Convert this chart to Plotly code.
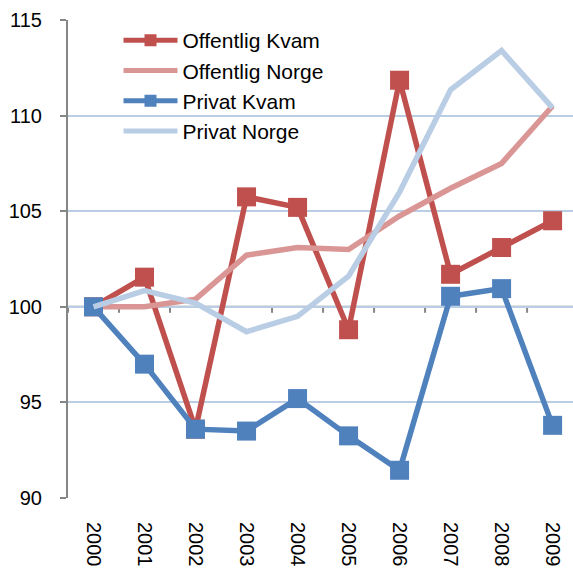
import plotly.graph_objects as go

years = ["2000", "2001", "2002", "2003", "2004", "2005", "2006", "2007", "2008", "2009"]
offentlig_kvam = [100, 101.55, 93.6, 105.75, 105.2, 98.8, 111.85, 101.7, 103.1, 104.5]
offentlig_norge = [100, 100.0, 100.4, 102.7, 103.1, 103.0, 104.75, 106.2, 107.5, 110.5]
privat_kvam = [100, 97.0, 93.6, 93.5, 95.2, 93.25, 91.45, 100.55, 100.95, 93.8]
privat_norge = [100, 100.85, 100.2, 98.7, 99.5, 101.6, 106.0, 111.35, 113.4, 110.4]
y_ticks = [90, 95, 100, 105, 110, 115]

RED = "#C0504D"
LRED = "#DA9694"
BLUE = "#4F81BD"
LBLUE = "#B9CDE5"
AXIS = "#868686"

fig = go.Figure()
fig.add_trace(go.Scatter(x=years, y=offentlig_kvam, name="Offentlig Kvam", mode="lines+markers",
                         line=dict(color=RED, width=5.5),
                         marker=dict(symbol="square", size=19, color=RED)))
fig.add_trace(go.Scatter(x=years, y=offentlig_norge, name="Offentlig Norge", mode="lines",
                         line=dict(color=LRED, width=5.5)))
fig.add_trace(go.Scatter(x=years, y=privat_kvam, name="Privat Kvam", mode="lines+markers",
                         line=dict(color=BLUE, width=5.5),
                         marker=dict(symbol="square", size=19, color=BLUE)))
fig.add_trace(go.Scatter(x=years, y=privat_norge, name="Privat Norge", mode="lines",
                         line=dict(color=LBLUE, width=5.5)))

# horizontal category axis crossing at 100, with ticks at category boundaries
shapes = [dict(type="line", xref="x", yref="y", x0=-0.5, x1=len(years) - 0.5, y0=100, y1=100,
               line=dict(color=AXIS, width=2), layer="below")]
for i in range(len(years) + 1):
    shapes.append(dict(type="line", xref="x", yref="y", ysizemode="pixel", yanchor=100,
                       x0=i - 0.5, x1=i - 0.5, y0=0, y1=-6,
                       line=dict(color=AXIS, width=2), layer="below"))

fig.update_layout(
    width=573, height=568,
    margin=dict(l=68, r=0, t=20, b=70, autoexpand=False),
    paper_bgcolor="white", plot_bgcolor="white",
    font=dict(family="Liberation Sans, Arial, sans-serif", size=20, color="#000000"),
    showlegend=True,
    legend=dict(x=0.1, y=1.0, xanchor="left", yanchor="top", bgcolor="rgba(0,0,0,0)",
                font=dict(size=21), tracegroupgap=0, itemsizing="constant", itemwidth=54),
    shapes=shapes,
)
fig.update_xaxes(type="category", range=[-0.5, 9.4], showgrid=False, showline=False,
                 tickangle=90, ticks="", ticklabelstandoff=23, zeroline=False,
                 automargin=False, tickfont=dict(size=20))
fig.update_yaxes(range=[90, 115], tickvals=y_ticks, showgrid=True, gridcolor=LBLUE, gridwidth=2,
                 showline=True, linecolor=AXIS, linewidth=2, ticks="outside", ticklen=6,
                 tickcolor=AXIS, tickwidth=2, zeroline=False, automargin=False,
                 ticklabelstandoff=14, tickfont=dict(size=20))

fig.write_html("out.html", config={"displayModeBar": False},
               post_script="document.body.style.margin='0';")
